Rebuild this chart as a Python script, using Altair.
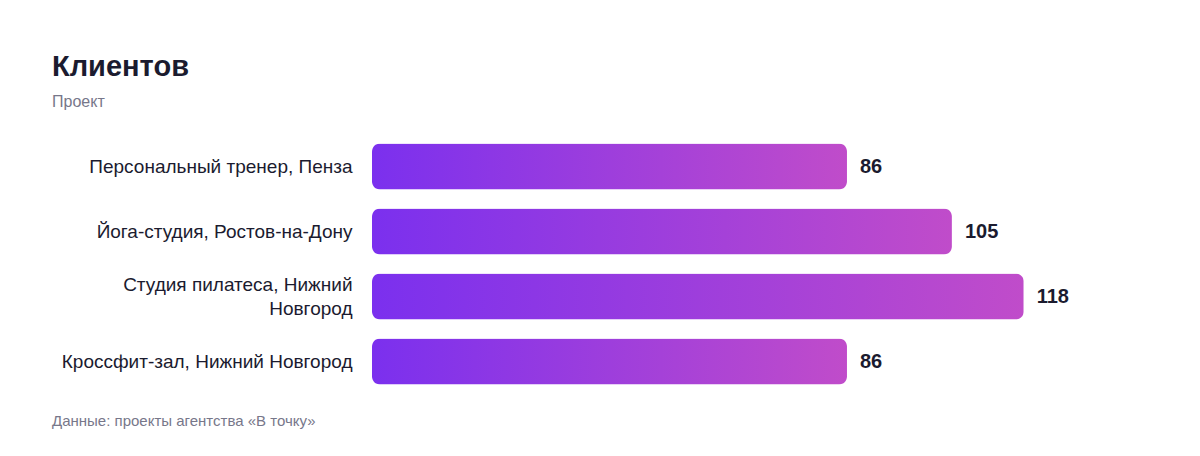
import altair as alt
import pandas as pd

projects = [
    "Персональный тренер, Пенза",
    "Йога-студия, Ростов-на-Дону",
    "Студия пилатеса, Нижний Новгород",
    "Кроссфит-зал, Нижний Новгород",
]
clients = [86, 105, 118, 86]

title_text = "Клиентов"
subtitle_text = "Проект"
source_text = "Данные: проекты агентства «В точку»"

df = pd.DataFrame({"project": projects, "clients": clients})
src = pd.DataFrame({"t": [source_text]})

FONT = "Liberation Sans"
DARK = "#1b1b2f"
GRAY = "#77778a"

WRAPPED = "Студия пилатеса, Нижний Новгород"

y_enc = alt.Y(
    "project:N",
    sort=projects,
    scale=alt.Scale(paddingInner=0.29, paddingOuter=0.145),
    axis=alt.Axis(
        title=None,
        domain=False,
        ticks=False,
        tickSize=0,
        labelPadding=20,
        labelFontSize=19,
        labelColor=DARK,
        labelFont=FONT,
        labelLimit=400,
        minExtent=320,
        maxExtent=320,
        labelExpr=f"datum.label == '{WRAPPED}' ? ['Студия пилатеса, Нижний', 'Новгород'] : datum.label",
        labelLineHeight=24,
        labelOffset={"condition": {"test": f"datum.value == '{WRAPPED}'", "value": -12}, "value": 0},
    ),
)
x_enc = alt.X(
    "clients:Q",
    scale=alt.Scale(domain=[0, 130], nice=False, zero=True),
    axis=None,
)

bars = alt.Chart(df).mark_bar(
    cornerRadius=8,
    color=alt.Gradient(
        gradient="linear",
        x1=0, x2=1, y1=0, y2=0,
        stops=[
            alt.GradientStop(color="#7b30ee", offset=0),
            alt.GradientStop(color="#c04cca", offset=1),
        ],
    ),
).encode(x=x_enc, y=y_enc)

labels = alt.Chart(df).mark_text(
    align="left", baseline="middle", dx=13,
    font=FONT, fontSize=20, fontWeight="bold", color=DARK,
).encode(x=x_enc, y=y_enc, text="clients:Q")

footer = alt.Chart(src).mark_text(
    align="left", baseline="alphabetic",
    font=FONT, fontSize=15, color=GRAY,
).encode(x=alt.value(-320), y=alt.value(292), text="t:N")

chart = alt.layer(bars, labels, footer).properties(
    width=718,
    height=260,
    background="white",
    padding={"left": 44, "top": 45, "right": 20, "bottom": 20},
    title=alt.Title(
        text=title_text,
        subtitle=subtitle_text,
        anchor="start",
        frame="bounds",
        font=FONT,
        fontSize=29,
        fontWeight="bold",
        color=DARK,
        subtitleFont=FONT,
        subtitleFontSize=16,
        subtitleColor=GRAY,
        subtitlePadding=12,
        offset=24,
    ),
).configure_view(strokeWidth=0, stroke=None)

chart.save("out.html", embed_options={"renderer": "svg", "actions": False})
